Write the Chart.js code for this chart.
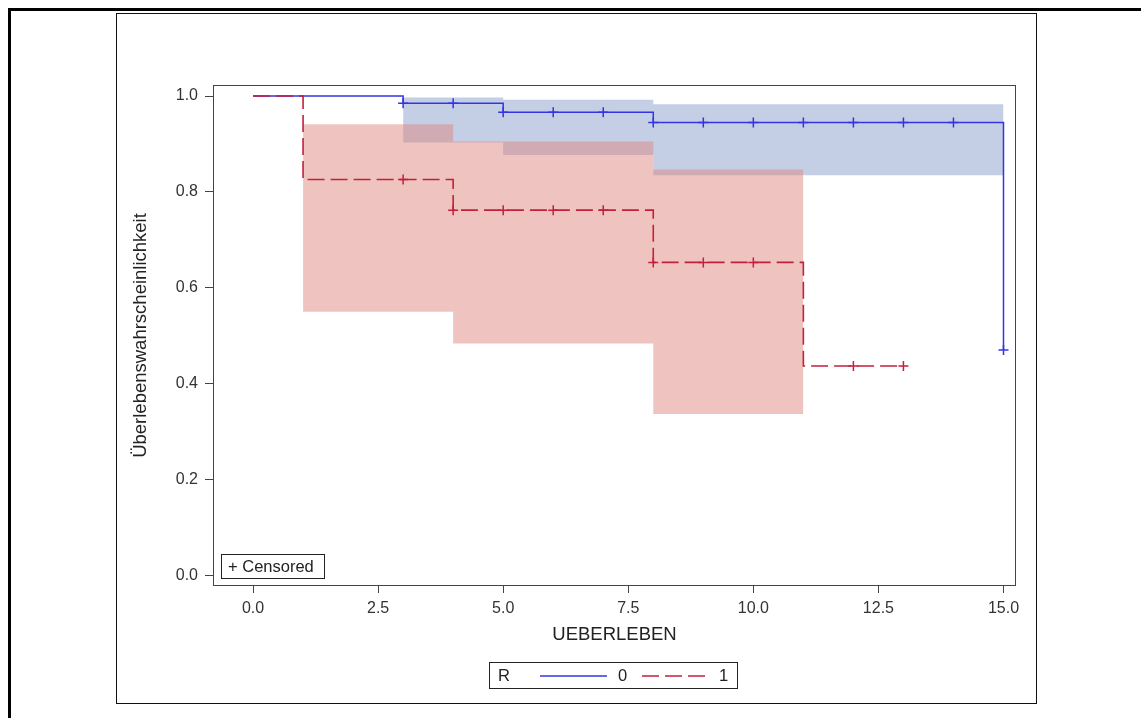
<!DOCTYPE html>
<html>
<head>
<meta charset="utf-8">
<title>Kaplan-Meier</title>
<script src="https://cdn.jsdelivr.net/npm/chart.js@4.4.1/dist/chart.umd.min.js"></script>
<style>
    html, body { margin: 0; padding: 0; background: #fff; }
    #wrap { width: 1141px; height: 718px; }
</style>
</head>
<body>
<div id="wrap"><canvas id="kmChart" width="1141" height="718"></canvas></div>
<script>
// Survival steps, group R = 0
const timesR0 = [0, 3, 5, 8, 15];
const survR0 = [1.0, 0.985, 0.966, 0.945, 0.470];
const censTimesR0 = [3, 4, 5, 6, 7, 8, 9, 10, 11, 12, 13, 14, 15];
const censSurvR0 = [0.985, 0.985, 0.966, 0.966, 0.966, 0.945, 0.945, 0.945, 0.945, 0.945, 0.945, 0.945, 0.470];

// Survival steps, group R = 1
const timesR1 = [0, 1, 4, 8, 11, 13];
const survR1 = [1.0, 0.826, 0.762, 0.653, 0.437, 0.437];
const censTimesR1 = [3, 4, 5, 6, 7, 8, 9, 10, 12, 13];
const censSurvR1 = [0.826, 0.762, 0.762, 0.762, 0.762, 0.653, 0.653, 0.653, 0.437, 0.437];

// Confidence bands
const bandTimesR0 = [3, 5, 8, 15];
const bandUpperR0 = [0.997, 0.992, 0.983, 0.983];
const bandLowerR0 = [0.903, 0.877, 0.835, 0.835];
const bandTimesR1 = [1, 4, 8, 11];
const bandUpperR1 = [0.941, 0.905, 0.847, 0.847];
const bandLowerR1 = [0.550, 0.484, 0.337, 0.337];

// Axis ticks
const xTicks = [0, 2.5, 5, 7.5, 10, 12.5, 15];
const yTicks = [0, 0.2, 0.4, 0.6, 0.8, 1.0];

const blue = '#3434e4';
const red = '#c41f3c';
const redDash = [17, 6];
const fontFamily = '"Liberation Sans", Arial, sans-serif';

function pts(xs, ys) {
    return xs.map((x, i) => ({ x: x, y: ys[i] }));
}

// page frames, censored note and the group legend
const decor = {
    id: 'decor',
    afterDraw(chart) {
        const ctx = chart.ctx;
        const a = chart.chartArea;
        ctx.save();

        ctx.fillStyle = '#000';
        ctx.fillRect(8, 8, 1133, 3);
        ctx.fillRect(8, 8, 3, 710);

        ctx.strokeStyle = '#111';
        ctx.lineWidth = 1;
        ctx.strokeRect(116.5, 13.5, 920, 690);

        ctx.strokeStyle = '#444';
        ctx.strokeRect(Math.round(a.left) + 0.5, Math.round(a.top) + 0.5,
            Math.round(a.right - a.left) - 1, Math.round(a.bottom - a.top) - 1);

        // + Censored box
        ctx.strokeStyle = '#222';
        ctx.strokeRect(221.5, 554.5, 103, 24);
        ctx.fillStyle = '#222';
        ctx.font = '16.5px ' + fontFamily;
        ctx.textBaseline = 'middle';
        ctx.textAlign = 'left';
        ctx.fillText('+ Censored', 228, 567);

        // legend
        ctx.strokeRect(489.5, 662.5, 248, 26);
        ctx.fillText('R', 498, 676);
        ctx.fillText('0', 618, 676);
        ctx.fillText('1', 719, 676);

        ctx.lineWidth = 1.5;
        ctx.strokeStyle = blue;
        ctx.beginPath();
        ctx.moveTo(540, 676);
        ctx.lineTo(607, 676);
        ctx.stroke();

        ctx.strokeStyle = red;
        ctx.setLineDash(redDash);
        ctx.beginPath();
        ctx.moveTo(642, 676);
        ctx.lineTo(705, 676);
        ctx.stroke();

        ctx.restore();
    }
};

new Chart(document.getElementById('kmChart'), {
    type: 'line',
    data: {
        datasets: [
            {
                label: 'Censored 1',
                data: pts(censTimesR1, censSurvR1),
                showLine: false,
                pointStyle: 'cross',
                pointRadius: 5,
                pointBorderWidth: 1.5,
                pointBorderColor: red
            },
            {
                label: '1',
                data: pts(timesR1, survR1),
                stepped: true,
                borderColor: red,
                borderWidth: 1.6,
                borderDash: redDash,
                pointRadius: 0
            },
            {
                label: 'Censored 0',
                data: pts(censTimesR0, censSurvR0),
                showLine: false,
                pointStyle: 'cross',
                pointRadius: 5,
                pointBorderWidth: 1.5,
                pointBorderColor: blue
            },
            {
                label: '0',
                data: pts(timesR0, survR0),
                stepped: true,
                borderColor: blue,
                borderWidth: 1.5,
                pointRadius: 0
            },
            {
                label: 'band 1 upper',
                data: pts(bandTimesR1, bandUpperR1),
                stepped: true,
                borderWidth: 0,
                pointRadius: 0,
                fill: '+1',
                backgroundColor: 'rgba(222, 132, 124, 0.48)'
            },
            {
                label: 'band 1 lower',
                data: pts(bandTimesR1, bandLowerR1),
                stepped: true,
                borderWidth: 0,
                pointRadius: 0,
                fill: false
            },
            {
                label: 'band 0 upper',
                data: pts(bandTimesR0, bandUpperR0),
                stepped: true,
                borderWidth: 0,
                pointRadius: 0,
                fill: '+1',
                backgroundColor: '#c4cfe6'
            },
            {
                label: 'band 0 lower',
                data: pts(bandTimesR0, bandLowerR0),
                stepped: true,
                borderWidth: 0,
                pointRadius: 0,
                fill: false
            }
        ]
    },
    options: {
        responsive: false,
        animation: false,
        devicePixelRatio: 1,
        layout: {
            padding: { left: 0, top: 85, right: 125, bottom: 0 }
        },
        plugins: {
            legend: { display: false },
            tooltip: { enabled: false }
        },
        scales: {
            x: {
                type: 'linear',
                min: -0.8,
                max: 15.25,
                afterBuildTicks: function(scale) {
                    scale.ticks = xTicks.map(v => ({ value: v }));
                },
                afterFit: function(scale) {
                    scale.height = 132;
                },
                ticks: {
                    color: '#333',
                    padding: 6,
                    maxRotation: 0,
                    font: { family: fontFamily, size: 16 },
                    callback: function(value) {
                        return value.toFixed(1);
                    }
                },
                grid: {
                    drawOnChartArea: false,
                    drawTicks: true,
                    tickLength: 7,
                    color: '#444'
                },
                border: { display: false },
                title: {
                    display: true,
                    text: 'UEBERLEBEN',
                    color: '#222',
                    font: { family: fontFamily, size: 18.5 },
                    padding: { top: 0, bottom: 72 }
                }
            },
            y: {
                type: 'linear',
                min: -0.022,
                max: 1.023,
                afterBuildTicks: function(scale) {
                    scale.ticks = yTicks.map(v => ({ value: v }));
                },
                afterFit: function(scale) {
                    scale.width = 213;
                },
                ticks: {
                    color: '#333',
                    padding: 7,
                    font: { family: fontFamily, size: 16 },
                    callback: function(value) {
                        return value.toFixed(1);
                    }
                },
                grid: {
                    drawOnChartArea: false,
                    drawTicks: true,
                    tickLength: 8,
                    color: '#444'
                },
                border: { display: false },
                title: {
                    display: true,
                    text: 'Überlebenswahrscheinlichkeit',
                    color: '#222',
                    font: { family: fontFamily, size: 18.5 },
                    padding: { top: 130, bottom: 0 }
                }
            }
        }
    },
    plugins: [decor]
});
</script>
</body>
</html>
